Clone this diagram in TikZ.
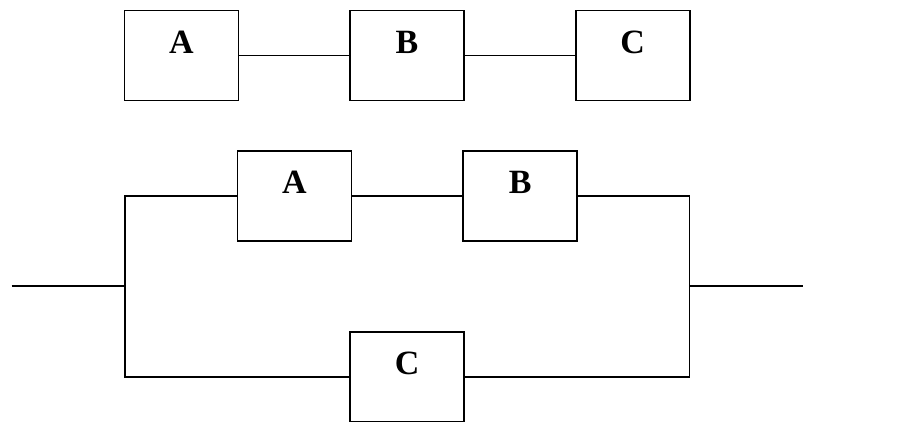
\documentclass[tikz,border=0pt]{standalone}
\usepackage{fontspec}
\setmainfont{Liberation Serif}
\begin{document}
\begin{tikzpicture}[x=1pt,y=-1pt,
  blk/.style={draw=black,line width=1.6pt,fill=white,minimum width=114pt,minimum height=90pt,inner sep=0pt,outer sep=0pt},
  lbl/.style={anchor=base,inner sep=0pt,font=\fontsize{34}{40}\bfseries\selectfont},
  wire/.style={draw=black,line width=1.6pt}]
\useasboundingbox (0,0) rectangle (915,422);
% top series
\node[blk] (A1) at (181.3,55.7) {};
\node[blk] (B1) at (407,55.7) {};
\node[blk] (C1) at (632.7,55.7) {};
\node[lbl] (tA1) at ([yshift=-42.5pt]A1.north) {A};
\node[lbl] (tB1) at ([yshift=-42.5pt]B1.north) {B};
\node[lbl] (tC1) at ([yshift=-42.5pt]C1.north) {C};
\draw[wire] (A1.east) -- (B1.west);
\draw[wire] (B1.east) -- (C1.west);
% bottom parallel
\node[blk] (A2) at (294.3,196) {};
\node[blk] (B2) at (520.2,196) {};
\node[blk] (C2) at (407.2,377) {};
\node[lbl] (tA2) at ([yshift=-42.5pt]A2.north) {A};
\node[lbl] (tB2) at ([yshift=-42.5pt]B2.north) {B};
\node[lbl] (tC2) at ([yshift=-42.5pt]C2.north) {C};
\coordinate (in) at (11.7,286);
\coordinate (j1) at (125,286);
\coordinate (j2) at (689.3,286);
\coordinate (out) at (802.7,286);
\draw[wire] (in) -- (j1);
\draw[wire] (j1) |- (A2.west);
\draw[wire] (j1) |- (C2.west);
\draw[wire] (A2.east) -- (B2.west);
\draw[wire] (B2.east) -| (j2);
\draw[wire] (C2.east) -| (j2);
\draw[wire] (j2) -- (out);
\end{tikzpicture}
\end{document}
